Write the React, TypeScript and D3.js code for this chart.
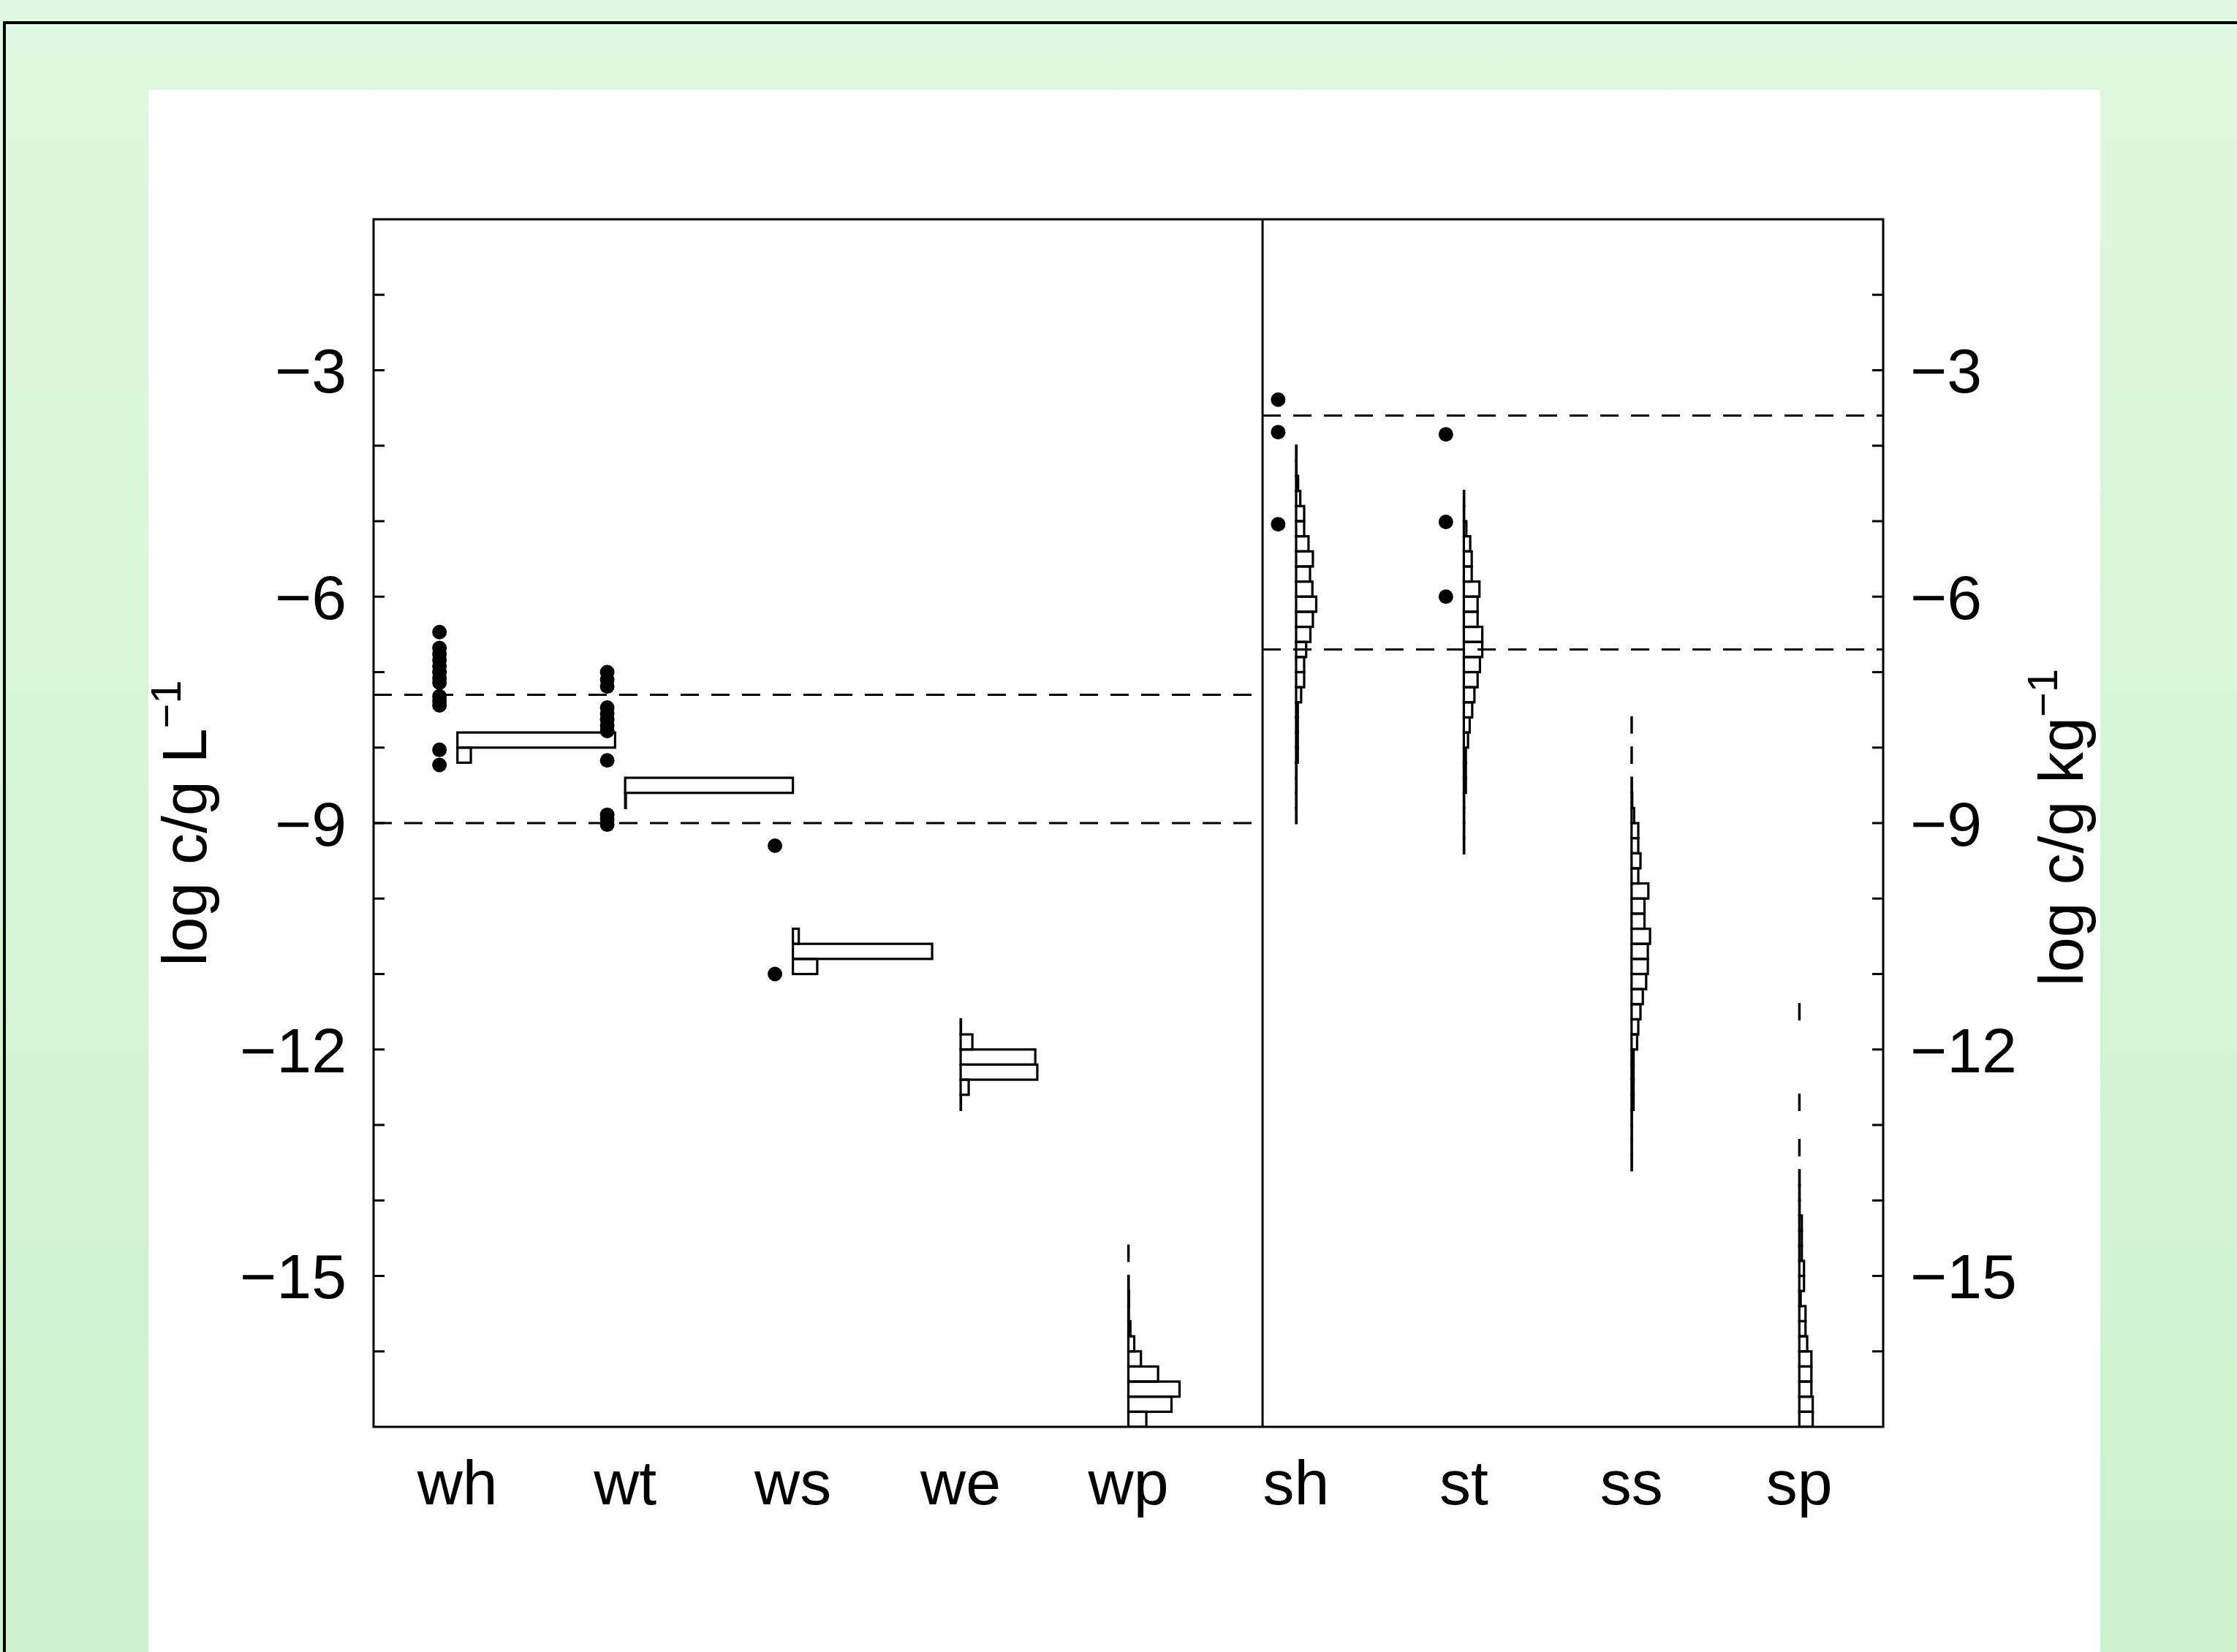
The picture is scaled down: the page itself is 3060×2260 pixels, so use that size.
import * as d3 from 'd3'

const categories = ['wh', 'wt', 'ws', 'we', 'wp', 'sh', 'st', 'ss', 'sp']
const BIN = 0.2

// measured values (log c), drawn as dots left of each category
const whPts = [-6.47, -6.68, -6.76, -6.84, -6.92, -7.0, -7.08, -7.14, -7.32, -7.38, -7.44, -8.03, -8.23]
const wtPts = [-7.0, -7.1, -7.19, -7.47, -7.55, -7.63, -7.71, -7.78, -8.17, -8.89, -8.95, -9.02]
const wsPts = [-9.3, -11.0]
const shPts = [-3.39, -3.82, -5.04]
const stPts = [-3.85, -5.01, -6.0]

// model histograms: upper edge of the first bin, then fraction per 0.2 bin going down
const whTop = -7.8
const whHist = [0.94, 0.08]
const wtTop = -8.4
const wtHist = [1.0, 0.004]
const wsTop = -10.4
const wsHist = [0.035, 0.83, 0.145]
const weTop = -11.6
const weHist = [0.002, 0.07, 0.445, 0.457, 0.048, 0.002]
const wpTop = -14.6
const wpHist = [0.001, 0, 0.002, 0.004, 0.003, 0.012, 0.035, 0.075, 0.177, 0.305, 0.257, 0.107]
const shTop = -4.0
const shHist = [0.002, 0.002, 0.012, 0.025, 0.048, 0.048, 0.074, 0.1, 0.083, 0.097, 0.12, 0.1, 0.085,
  0.06, 0.048, 0.048, 0.03, 0.01, 0.01, 0.01, 0.01, 0.002, 0.002, 0.002, 0.002]
const stTop = -4.6
const stHist = [0.002, 0.002, 0.015, 0.038, 0.047, 0.047, 0.093, 0.082, 0.082, 0.11, 0.11, 0.096,
  0.082, 0.063, 0.05, 0.035, 0.025, 0.012, 0.012, 0.012, 0.002, 0.002, 0.002, 0.002]
const ssTop = -7.6
const ssHist = [0.001, 0, 0.001, 0, 0.002, 0.004, 0.015, 0.04, 0.04, 0.053, 0.04, 0.1, 0.077, 0.077,
  0.11, 0.097, 0.097, 0.087, 0.067, 0.053, 0.04, 0.033, 0.012, 0.012, 0.012, 0.012, 0.002, 0.002, 0.002, 0.002]
const spTop = -11.4
const spHist = [0.001, 0, 0, 0, 0, 0, 0.001, 0, 0, 0.001, 0, 0.002, 0.002, 0.002, 0.015, 0.015, 0.015,
  0.028, 0.028, 0.008, 0.037, 0.037, 0.047, 0.072, 0.072, 0.072, 0.08, 0.08]

const yTicks = d3.range(-16, -1)
const yLabels = [-3, -6, -9, -12, -15]
const leftRefs = [-7.3, -9.0]
const rightRefs = [-3.6, -6.7]
const divider = 5.8

const W = 3060
const H = 2260
const FONT = '"Liberation Sans", Arial, Helvetica, sans-serif'

export default function App() {
  const x = d3.scaleLinear().domain([0.5, 9.5]).range([511, 2576])
  const y = d3.scaleLinear().domain([-17, -1]).range([1952, 300])
  const [x0, x1] = x.range()
  const [y0, y1] = [y(-1), y(-17)]
  const xd = x(divider)

  const series = [
    { pts: whPts, top: whTop, hist: whHist },
    { pts: wtPts, top: wtTop, hist: wtHist },
    { pts: wsPts, top: wsTop, hist: wsHist },
    { pts: [], top: weTop, hist: weHist },
    { pts: [], top: wpTop, hist: wpHist },
    { pts: shPts, top: shTop, hist: shHist },
    { pts: stPts, top: stTop, hist: stHist },
    { pts: [], top: ssTop, hist: ssHist },
    { pts: [], top: spTop, hist: spHist },
  ]

  const fmt = (v: number) => String(v).replace('-', '\u2212')

  return (
    <div style={{ position: 'absolute', left: 0, top: 0 }}>
      <svg width={W} height={H} style={{ display: 'block' }} fontFamily={FONT}>
        <defs>
          <linearGradient id="bg" x1="0" y1="0" x2="0" y2="1">
            <stop offset="0" stopColor="#dff8df" />
            <stop offset="1" stopColor="#cdf2cd" />
          </linearGradient>
          <clipPath id="plot">
            <rect x={x0} y={y0} width={x1 - x0} height={y1 - y0} />
          </clipPath>
        </defs>
        <rect width={W} height={H} fill="url(#bg)" />
        <line x1={4} x2={W} y1={31} y2={31} stroke="#000" strokeWidth={4} />
        <line x1={6} x2={6} y1={29} y2={H} stroke="#000" strokeWidth={4} />
        <rect x={203} y={123} width={2670} height={H - 123} fill="#fff" />

        {/* reference lines */}
        <g stroke="#000" strokeWidth={3} strokeDasharray="25,17">
          {leftRefs.map(v => (
            <line key={'l' + v} x1={x0} x2={xd} y1={y(v)} y2={y(v)} />
          ))}
          {rightRefs.map(v => (
            <line key={'r' + v} x1={xd} x2={x1} y1={y(v)} y2={y(v)} />
          ))}
        </g>

        {/* histograms */}
        <g clipPath="url(#plot)" fill="none" stroke="#000" strokeWidth={3.2}>
          {series.map((s, ci) =>
            s.hist.map((f, i) => {
              if (f <= 0) return null
              const c = ci + 1
              const ya = y(s.top - i * BIN)
              const yb = y(s.top - (i + 1) * BIN)
              return (
                <rect key={ci + '-' + i} x={x(c)} y={ya} width={x(c + f) - x(c)} height={yb - ya} />
              )
            })
          )}
        </g>

        {/* measured points */}
        <g fill="#000">
          {series.map((s, ci) =>
            s.pts.map((v, i) => (
              <circle key={ci + '-' + i} cx={x(ci + 1 - 0.107)} cy={y(v)} r={10} />
            ))
          )}
        </g>

        {/* frame, divider, ticks */}
        <g stroke="#000" strokeWidth={3} fill="none">
          <rect x={x0} y={y0} width={x1 - x0} height={y1 - y0} />
          <line x1={xd} x2={xd} y1={y0} y2={y1} />
          {yTicks.map(v => (
            <g key={v}>
              <line x1={x0} x2={x0 + 15} y1={y(v)} y2={y(v)} />
              <line x1={x1 - 15} x2={x1} y1={y(v)} y2={y(v)} />
            </g>
          ))}
        </g>

        {/* tick labels */}
        <g fontSize={86} fill="#000">
          {yLabels.map(v => (
            <g key={v}>
              <text x={x0 - 37} y={y(v)} dy="0.36em" textAnchor="end">{fmt(v)}</text>
              <text x={x1 + 37} y={y(v)} dy="0.36em" textAnchor="start">{fmt(v)}</text>
            </g>
          ))}
          {categories.map((c, i) => (
            <text key={c} x={x(i + 1)} y={2058} textAnchor="middle">{c}</text>
          ))}
        </g>

        {/* axis titles */}
        <text transform="translate(282,1126) rotate(-90)" textAnchor="middle" fontSize={86}>
          log c/g L<tspan fontSize={58} dy={-35}>{'\u22121'}</tspan>
        </text>
        <text transform="translate(2849,1132) rotate(-90)" textAnchor="middle" fontSize={86}>
          log c/g kg<tspan fontSize={58} dy={-35}>{'\u22121'}</tspan>
        </text>
      </svg>
    </div>
  )
}
